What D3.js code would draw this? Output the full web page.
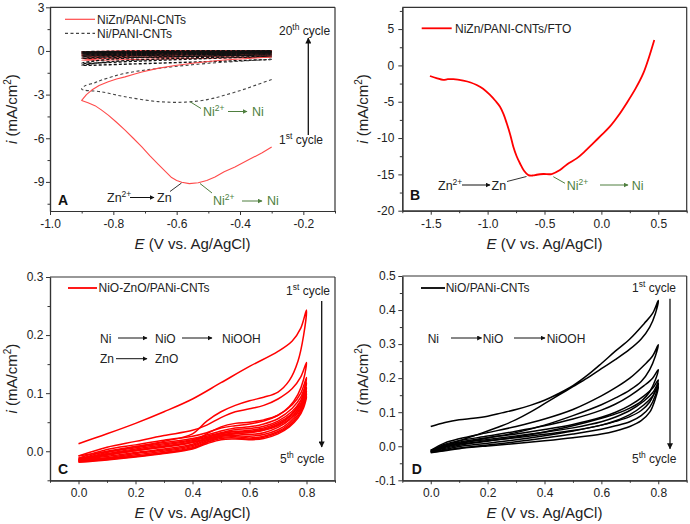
<!DOCTYPE html>
<html><head><meta charset="utf-8">
<script src="https://cdn.jsdelivr.net/npm/d3@7"></script>
<style>
body{margin:0;background:#fff}
svg{font-family:Arial,"Liberation Sans",sans-serif}
</style></head><body>
<svg id="c" width="690" height="524"></svg>
<script>
// ---------- Panel A data ----------
const aXTicks = [-1.0, -0.8, -0.6, -0.4, -0.2];
const aXMinor = [-0.9, -0.7, -0.5, -0.3, -0.1];
const aYTicks = [3, 0, -3, -6, -9];
const aYMinor = [1.5, -1.5, -4.5, -7.5, -10.5];
const aLegend = ["NiZn/PANI-CNTs", "Ni/PANI-CNTs"];
const aRedFirst = [[-0.3,-6.6],[-0.33,-7.0],[-0.37,-7.45],[-0.416,-7.97],[-0.45,-8.3],[-0.479,-8.66],[-0.505,-8.9],[-0.532,-9.06],[-0.56,-9.12],[-0.584,-9.02],[-0.6,-8.9],[-0.616,-8.70],[-0.635,-8.3],[-0.658,-7.80],[-0.685,-7.2],[-0.71,-6.60],[-0.737,-6.0],[-0.763,-5.44],[-0.79,-4.9],[-0.816,-4.41],[-0.838,-4.05],[-0.858,-3.76],[-0.88,-3.56],[-0.9,-3.40],[-0.885,-3.0],[-0.868,-2.69],[-0.845,-2.38],[-0.816,-2.12],[-0.79,-1.93],[-0.763,-1.78],[-0.735,-1.6],[-0.71,-1.45],[-0.66,-1.2],[-0.605,-1.0],[-0.55,-0.85],[-0.5,-0.72],[-0.45,-0.62],[-0.4,-0.55],[-0.35,-0.48],[-0.3,-0.42]];
const aRedCycles = [
 [[-0.3,-0.42],[-0.5,-0.5],[-0.7,-0.57],[-0.9,-0.64],[-0.8,-0.48],[-0.6,-0.38],[-0.3,-0.3]],
 [[-0.3,-0.3],[-0.5,-0.38],[-0.7,-0.45],[-0.9,-0.52],[-0.8,-0.38],[-0.6,-0.28],[-0.3,-0.2]],
 [[-0.3,-0.2],[-0.6,-0.3],[-0.9,-0.4],[-0.75,-0.27],[-0.5,-0.18],[-0.3,-0.14]],
 [[-0.3,-0.14],[-0.6,-0.22],[-0.9,-0.3],[-0.7,-0.17],[-0.3,-0.09]],
 [[-0.3,-0.09],[-0.6,-0.15],[-0.9,-0.22],[-0.7,-0.1],[-0.3,-0.05]],
 [[-0.3,-0.05],[-0.6,-0.1],[-0.9,-0.15],[-0.7,-0.05],[-0.3,-0.02]],
 [[-0.3,-0.02],[-0.6,-0.05],[-0.9,-0.09],[-0.7,-0.01],[-0.3,0.01]],
 [[-0.3,0.01],[-0.6,-0.02],[-0.9,-0.05],[-0.7,0.02],[-0.3,0.03]]
];
const aNiFirst = [[-0.3,-1.96],[-0.35,-2.35],[-0.395,-2.69],[-0.45,-3.05],[-0.5,-3.33],[-0.573,-3.52],[-0.658,-3.48],[-0.763,-3.15],[-0.837,-2.81],[-0.9,-2.62],[-0.89,-2.4],[-0.86,-2.2],[-0.837,-2.0],[-0.763,-1.54],[-0.658,-1.2],[-0.5,-0.85],[-0.3,-0.58]];
const aNiCycles = [
 [[-0.3,-0.58],[-0.45,-0.7],[-0.6,-0.8],[-0.75,-0.9],[-0.9,-0.98],[-0.8,-0.72],[-0.65,-0.55],[-0.5,-0.45],[-0.3,-0.38]],
 [[-0.3,-0.38],[-0.5,-0.52],[-0.7,-0.68],[-0.9,-0.84],[-0.8,-0.55],[-0.6,-0.4],[-0.3,-0.27]],
 [[-0.3,-0.27],[-0.6,-0.38],[-0.9,-0.5],[-0.75,-0.35],[-0.5,-0.25],[-0.3,-0.2]],
 [[-0.3,-0.2],[-0.6,-0.27],[-0.9,-0.36],[-0.7,-0.24],[-0.3,-0.14]],
 [[-0.3,-0.14],[-0.6,-0.2],[-0.9,-0.28],[-0.7,-0.16],[-0.3,-0.1]],
 [[-0.3,-0.1],[-0.6,-0.15],[-0.9,-0.2],[-0.7,-0.1],[-0.3,-0.06]],
 [[-0.3,-0.06],[-0.6,-0.1],[-0.9,-0.14],[-0.7,-0.05],[-0.3,-0.03]],
 [[-0.3,-0.03],[-0.6,-0.06],[-0.9,-0.1],[-0.7,-0.02],[-0.3,0.0]],
 [[-0.3,0.0],[-0.6,-0.03],[-0.9,-0.06],[-0.7,0.01],[-0.3,0.02]]
];

// ---------- Panel B data ----------
const bXTicks = [-1.5, -1.0, -0.5, 0.0, 0.5];
const bXMinor = [-1.75, -1.25, -0.75, -0.25, 0.25, 0.75];
const bYTicks = [5, 0, -5, -10, -15, -20];
const bYMinor = [7.5, 2.5, -2.5, -7.5, -12.5, -17.5];
const bLegend = ["NiZn/PANI-CNTs/FTO"];
const bCurve = [[-1.507,-1.46],[-1.45,-1.75],[-1.39,-2.0],[-1.35,-1.9],[-1.302,-1.9],[-1.214,-2.1],[-1.15,-2.35],[-1.096,-2.7],[-1.04,-3.2],[-0.979,-4.07],[-0.93,-4.9],[-0.891,-5.68],[-0.86,-6.7],[-0.832,-7.97],[-0.80,-9.6],[-0.774,-11.2],[-0.745,-12.5],[-0.715,-13.5],[-0.68,-14.5],[-0.642,-15.1],[-0.6,-15.15],[-0.569,-15.05],[-0.51,-14.95],[-0.437,-14.95],[-0.364,-14.4],[-0.3,-13.6],[-0.217,-12.8],[-0.15,-11.9],[-0.071,-10.7],[0.0,-9.6],[0.076,-8.4],[0.15,-6.9],[0.222,-5.2],[0.3,-3.2],[0.368,-1.1],[0.42,1.2],[0.465,3.5]];

// ---------- Panel C data ----------
const cXTicks = [0.0, 0.2, 0.4, 0.6, 0.8];
const cXMinor = [-0.1, 0.1, 0.3, 0.5, 0.7, 0.9];
const cYTicks = [0.0, 0.1, 0.2, 0.3];
const cYMinor = [-0.05, 0.05, 0.15, 0.25];
const cLegend = ["NiO-ZnO/PANi-CNTs"];
const cCycles = [
 [[0.0,0.013],[0.1,0.03],[0.2,0.048],[0.3,0.068],[0.4,0.09],[0.5,0.118],[0.6,0.146],[0.7,0.172],[0.75,0.19],[0.78,0.212],[0.8,0.243],
  [0.79,0.2],[0.77,0.155],[0.74,0.122],[0.7,0.102],[0.65,0.093],[0.6,0.087],[0.55,0.079],[0.5,0.068],[0.45,0.052],[0.4,0.03],[0.3,0.017],[0.2,0.008],[0.1,-0.001],[0.0,-0.008]],
 [[0.0,-0.008],[0.1,0.007],[0.2,0.017],[0.3,0.027],[0.4,0.036],[0.45,0.045],[0.5,0.058],[0.55,0.068],[0.6,0.073],[0.65,0.079],[0.7,0.09],[0.75,0.108],[0.78,0.128],[0.8,0.153],
  [0.79,0.124],[0.77,0.098],[0.74,0.077],[0.7,0.062],[0.65,0.054],[0.6,0.05],[0.55,0.048],[0.5,0.042],[0.45,0.03],[0.4,0.016],[0.3,0.007],[0.2,0.001],[0.1,-0.007],[0.0,-0.012]],
 [[0.0,-0.012],[0.1,0.003],[0.2,0.011],[0.3,0.019],[0.4,0.026],[0.45,0.032],[0.5,0.04],[0.55,0.044],[0.6,0.047],[0.65,0.052],[0.7,0.062],[0.75,0.08],[0.78,0.1],[0.8,0.127],
  [0.79,0.1],[0.77,0.078],[0.74,0.06],[0.7,0.046],[0.65,0.037],[0.6,0.033],[0.55,0.034],[0.5,0.031],[0.45,0.023],[0.4,0.012],[0.3,0.004],[0.2,-0.002],[0.1,-0.009],[0.0,-0.014]],
 [[0.0,-0.014],[0.1,0.0],[0.2,0.008],[0.3,0.015],[0.4,0.022],[0.45,0.028],[0.5,0.035],[0.55,0.04],[0.6,0.042],[0.65,0.047],[0.7,0.056],[0.75,0.074],[0.78,0.093],[0.8,0.118],
  [0.79,0.094],[0.77,0.072],[0.74,0.054],[0.7,0.041],[0.65,0.032],[0.6,0.029],[0.55,0.03],[0.5,0.028],[0.45,0.02],[0.4,0.01],[0.3,0.002],[0.2,-0.004],[0.1,-0.011],[0.0,-0.015]],
 [[0.0,-0.015],[0.1,-0.002],[0.2,0.006],[0.3,0.013],[0.4,0.02],[0.45,0.026],[0.5,0.032],[0.55,0.037],[0.6,0.039],[0.65,0.043],[0.7,0.052],[0.75,0.069],[0.78,0.087],[0.8,0.11],
  [0.79,0.088],[0.77,0.067],[0.74,0.05],[0.7,0.037],[0.65,0.029],[0.6,0.026],[0.55,0.027],[0.5,0.026],[0.45,0.018],[0.4,0.008],[0.3,0.0],[0.2,-0.006],[0.1,-0.012],[0.0,-0.016]],
 [[0.0,-0.016],[0.1,-0.004],[0.2,0.004],[0.3,0.011],[0.4,0.018],[0.45,0.024],[0.5,0.03],[0.55,0.034],[0.6,0.036],[0.65,0.04],[0.7,0.049],[0.75,0.065],[0.78,0.082],[0.8,0.104],
  [0.79,0.083],[0.77,0.063],[0.74,0.047],[0.7,0.034],[0.65,0.026],[0.6,0.023],[0.55,0.025],[0.5,0.024],[0.45,0.016],[0.4,0.006],[0.3,-0.002],[0.2,-0.008],[0.1,-0.013],[0.0,-0.017]],
 [[0.0,-0.017],[0.1,-0.005],[0.2,0.002],[0.3,0.009],[0.4,0.016],[0.45,0.022],[0.5,0.028],[0.55,0.032],[0.6,0.034],[0.65,0.038],[0.7,0.046],[0.75,0.062],[0.78,0.078],[0.8,0.099],
  [0.79,0.079],[0.77,0.06],[0.74,0.044],[0.7,0.032],[0.65,0.024],[0.6,0.021],[0.55,0.023],[0.5,0.022],[0.45,0.015],[0.4,0.005],[0.3,-0.003],[0.2,-0.009],[0.1,-0.014],[0.0,-0.018]],
 [[0.0,-0.018],[0.1,-0.006],[0.2,0.001],[0.3,0.008],[0.4,0.015],[0.45,0.02],[0.5,0.026],[0.55,0.03],[0.6,0.032],[0.65,0.036],[0.7,0.044],[0.75,0.059],[0.78,0.074],[0.8,0.094],
  [0.79,0.075],[0.77,0.057],[0.74,0.042],[0.7,0.03],[0.65,0.022],[0.6,0.02],[0.55,0.021],[0.5,0.02],[0.45,0.013],[0.4,0.004],[0.3,-0.004],[0.2,-0.01],[0.1,-0.015],[0.0,-0.019]]
];

// ---------- Panel D data ----------
const dXTicks = [0.0, 0.2, 0.4, 0.6, 0.8];
const dXMinor = [-0.1, 0.1, 0.3, 0.5, 0.7, 0.9];
const dYTicks = [-0.1, 0.0, 0.1, 0.2, 0.3, 0.4, 0.5];
const dYMinor = [-0.05, 0.05, 0.15, 0.25, 0.35, 0.45];
const dLegend = ["NiO/PANi-CNTs"];
const dCycles = [
 [[0.0,0.058],[0.05,0.07],[0.1,0.078],[0.15,0.082],[0.2,0.088],[0.25,0.098],[0.3,0.108],[0.35,0.12],[0.4,0.135],[0.45,0.155],[0.5,0.178],[0.55,0.208],[0.6,0.243],[0.65,0.28],[0.7,0.315],[0.75,0.36],[0.78,0.39],[0.8,0.428],
  [0.79,0.39],[0.77,0.35],[0.74,0.315],[0.7,0.285],[0.65,0.255],[0.6,0.228],[0.55,0.2],[0.5,0.175],[0.45,0.15],[0.4,0.125],[0.35,0.1],[0.3,0.078],[0.25,0.06],[0.2,0.045],[0.15,0.03],[0.1,0.016],[0.05,0.002],[0.0,-0.012]],
 [[0.0,-0.012],[0.05,0.01],[0.1,0.022],[0.2,0.04],[0.3,0.058],[0.4,0.08],[0.5,0.108],[0.6,0.148],[0.65,0.172],[0.7,0.2],[0.75,0.238],[0.78,0.265],[0.8,0.298],
  [0.79,0.265],[0.77,0.225],[0.74,0.19],[0.7,0.165],[0.65,0.142],[0.6,0.122],[0.5,0.09],[0.4,0.062],[0.3,0.04],[0.2,0.024],[0.1,0.008],[0.05,-0.002],[0.0,-0.014]],
 [[0.0,-0.014],[0.05,0.006],[0.1,0.016],[0.2,0.03],[0.3,0.044],[0.4,0.06],[0.5,0.08],[0.6,0.106],[0.65,0.124],[0.7,0.148],[0.75,0.178],[0.78,0.2],[0.8,0.225],
  [0.79,0.195],[0.77,0.16],[0.74,0.132],[0.7,0.112],[0.65,0.095],[0.6,0.082],[0.5,0.06],[0.4,0.042],[0.3,0.027],[0.2,0.015],[0.1,0.003],[0.05,-0.006],[0.0,-0.016]],
 [[0.0,-0.016],[0.05,0.003],[0.1,0.012],[0.2,0.025],[0.3,0.036],[0.4,0.049],[0.5,0.064],[0.6,0.085],[0.65,0.1],[0.7,0.12],[0.75,0.148],[0.78,0.17],[0.8,0.195],
  [0.79,0.165],[0.77,0.13],[0.74,0.105],[0.7,0.087],[0.65,0.073],[0.6,0.062],[0.5,0.045],[0.4,0.031],[0.3,0.019],[0.2,0.009],[0.1,-0.001],[0.05,-0.009],[0.0,-0.017]],
 [[0.0,-0.017],[0.05,0.0],[0.1,0.009],[0.2,0.02],[0.3,0.03],[0.4,0.041],[0.5,0.054],[0.6,0.072],[0.65,0.086],[0.7,0.105],[0.75,0.133],[0.78,0.157],[0.8,0.185],
  [0.79,0.15],[0.77,0.115],[0.74,0.09],[0.7,0.072],[0.65,0.06],[0.6,0.05],[0.5,0.036],[0.4,0.024],[0.3,0.013],[0.2,0.004],[0.1,-0.005],[0.05,-0.012],[0.0,-0.018]],
 [[0.0,-0.018],[0.05,-0.003],[0.1,0.006],[0.2,0.016],[0.3,0.025],[0.4,0.035],[0.5,0.046],[0.6,0.062],[0.65,0.075],[0.7,0.093],[0.75,0.122],[0.78,0.147],[0.8,0.175],
  [0.79,0.14],[0.77,0.1],[0.74,0.075],[0.7,0.058],[0.65,0.045],[0.6,0.036],[0.5,0.025],[0.4,0.016],[0.3,0.008],[0.2,0.001],[0.1,-0.007],[0.05,-0.013],[0.0,-0.019]]
];

// ---------- drawing ----------
const svg = d3.select("#c");
const AX = "#333";
const GREEN = "#4f7f3f";
const TXT = "#222";

const defs = svg.append("defs");
function marker(id, color, w, h) {
  defs.append("marker").attr("id", id).attr("viewBox", "0 0 10 10")
    .attr("refX", 9).attr("refY", 5).attr("markerWidth", w).attr("markerHeight", h)
    .attr("orient", "auto").attr("markerUnits", "userSpaceOnUse")
    .append("path").attr("d", "M0,0 L10,5 L0,10 z").attr("fill", color);
}
marker("arK", "#111", 5, 5);
marker("arG", GREEN, 5, 5);
marker("arBig", "#111", 7, 6);

function panel(o) {
  const x = d3.scaleLinear().domain(o.xd).range([o.l, o.r]);
  const y = d3.scaleLinear().domain(o.yd).range([o.b, o.t]);
  const g = svg.append("g");
  g.append("g").attr("transform", `translate(0,${o.b})`)
    .call(d3.axisBottom(x).tickValues(o.xt).tickFormat(o.xf).tickSizeInner(4).tickSizeOuter(0).tickPadding(4.5));
  g.append("g").attr("transform", `translate(0,${o.b})`)
    .call(d3.axisBottom(x).tickValues(o.xm).tickFormat("").tickSizeInner(2.5).tickSizeOuter(0));
  g.append("g").attr("transform", `translate(${o.l},0)`)
    .call(d3.axisLeft(y).tickValues(o.yt).tickFormat(o.yf).tickSizeInner(4).tickSizeOuter(0).tickPadding(o.yp));
  g.append("g").attr("transform", `translate(${o.l},0)`)
    .call(d3.axisLeft(y).tickValues(o.ym).tickFormat("").tickSizeInner(2.5).tickSizeOuter(0));
  g.selectAll(".domain").attr("stroke", AX).attr("stroke-width", 1.2);
  g.selectAll(".tick line").attr("stroke", AX);
  g.selectAll(".tick text").attr("font-size", 12).attr("fill", TXT).attr("font-family", "Arial, 'Liberation Sans', sans-serif");
  g.append("line").attr("x1", o.l).attr("x2", o.r).attr("y1", o.t).attr("y2", o.t).attr("stroke", AX).attr("stroke-width", 1.2);
  g.append("line").attr("x1", o.r).attr("x2", o.r).attr("y1", o.t).attr("y2", o.b).attr("stroke", AX).attr("stroke-width", 1.2);
  const xt = g.append("text").attr("x", (o.l + o.r) / 2).attr("y", o.b + 38).attr("text-anchor", "middle")
    .attr("font-size", 15).attr("fill", TXT);
  xt.append("tspan").attr("font-style", "italic").text("E");
  xt.append("tspan").text(" (V vs. Ag/AgCl)");
  const yt = g.append("text").attr("transform", `translate(${o.ytx},${(o.t + o.b) / 2}) rotate(-90)`)
    .attr("text-anchor", "middle").attr("font-size", 15).attr("fill", TXT);
  yt.append("tspan").attr("font-style", "italic").text("i");
  yt.append("tspan").text(" (mA/cm");
  yt.append("tspan").attr("font-size", 10).attr("dy", -6).text("2");
  yt.append("tspan").attr("dy", 6).text(")");
  return {x, y, g};
}

const fmt1 = d => d.toFixed(1);
const fmt0 = d => d.toFixed(0);

function richText(g, x, y, parts, color, size) {
  const t = g.append("text").attr("x", x).attr("y", y).attr("font-size", size || 12.5).attr("fill", color || TXT);
  let shifted = false;
  parts.forEach(p => {
    if (Array.isArray(p)) {
      t.append("tspan").attr("font-size", 8.5).attr("dy", -5).text(p[0]);
      shifted = true;
    } else {
      const s = t.append("tspan").text(p);
      if (shifted) { s.attr("dy", 5); shifted = false; }
    }
  });
  return t;
}
function arrow(g, x1, y1, x2, y2, color, mk, w) {
  g.append("line").attr("x1", x1).attr("y1", y1).attr("x2", x2).attr("y2", y2)
    .attr("stroke", color).attr("stroke-width", w || 1).attr("marker-end", `url(#${mk})`);
}
function seg(g, x1, y1, x2, y2, color) {
  g.append("line").attr("x1", x1).attr("y1", y1).attr("x2", x2).attr("y2", y2).attr("stroke", color).attr("stroke-width", 1);
}

// ---- Panel A ----
{
  const P = panel({l: 50, r: 335, t: 7.3, b: 211, xd: [-1.0, -0.1], yd: [-11, 3],
    xt: aXTicks, xm: aXMinor, yt: aYTicks, ym: aYMinor, xf: fmt1, yf: fmt0, yp: 1.5, ytx: 17});
  const line = d3.line().x(d => P.x(d[0])).y(d => P.y(d[1])).curve(d3.curveCatmullRom.alpha(0.5));
  const lineLin = d3.line().x(d => P.x(d[0])).y(d => P.y(d[1]));
  const RED = "#ff4a4a";
  aRedCycles.forEach(c => P.g.append("path").attr("d", line(c)).attr("fill", "none").attr("stroke", RED).attr("stroke-width", 1.1));
  aNiCycles.forEach(c => P.g.append("path").attr("d", line(c)).attr("fill", "none").attr("stroke", "#111").attr("stroke-width", 1.4).attr("stroke-dasharray", "3,2"));
  P.g.append("path").attr("d", line(aNiFirst)).attr("fill", "none").attr("stroke", "#444").attr("stroke-width", 1.1).attr("stroke-dasharray", "3,2.5");
  P.g.append("path").attr("d", lineLin(aRedFirst)).attr("fill", "none").attr("stroke", RED).attr("stroke-width", 1.1).attr("stroke-linejoin", "round");
  P.g.append("line").attr("x1", 65).attr("x2", 95).attr("y1", 19.3).attr("y2", 19.3).attr("stroke", RED).attr("stroke-width", 1.2);
  P.g.append("text").attr("x", 97).attr("y", 23.5).attr("font-size", 12).attr("fill", TXT).text(aLegend[0]);
  P.g.append("line").attr("x1", 65).attr("x2", 95).attr("y1", 33.3).attr("y2", 33.3).attr("stroke", "#444").attr("stroke-width", 1.2).attr("stroke-dasharray", "3,2.5");
  P.g.append("text").attr("x", 97).attr("y", 37.5).attr("font-size", 12).attr("fill", TXT).text(aLegend[1]);
  seg(P.g, 190, 101.7, 201, 108.5, GREEN);
  richText(P.g, 203, 116, ["Ni", ["2+"]], GREEN);
  arrow(P.g, 228, 111.5, 247, 111.5, GREEN, "arG");
  richText(P.g, 252, 116, ["Ni"], GREEN);
  richText(P.g, 107, 202, ["Zn", ["2+"]], TXT);
  arrow(P.g, 130, 197.5, 154, 197.5, "#111", "arK");
  richText(P.g, 157, 202, ["Zn"], TXT);
  seg(P.g, 170, 191.5, 181.5, 183, "#333");
  seg(P.g, 200, 183.5, 212, 193, GREEN);
  richText(P.g, 213, 204.5, ["Ni", ["2+"]], GREEN);
  arrow(P.g, 242, 201, 262, 201, GREEN, "arG");
  richText(P.g, 267, 204.5, ["Ni"], GREEN);
  P.g.append("text").attr("x", 58).attr("y", 205).attr("font-size", 14).attr("font-weight", "bold").attr("fill", "#111").text("A");
  arrow(P.g, 308.3, 135, 308.3, 38, "#111", "arBig", 1.3);
  richText(P.g, 279, 35, ["20", ["th"], " cycle"], TXT, 12);
  richText(P.g, 279, 143.5, ["1", ["st"], " cycle"], TXT, 12);
}

// ---- Panel B ----
{
  const P = panel({l: 402.3, r: 686.7, t: 7.3, b: 210.7, xd: [-1.75, 0.75], yd: [-20, 8],
    xt: bXTicks, xm: bXMinor, yt: bYTicks, ym: bYMinor, xf: fmt1, yf: fmt0, yp: 4, ytx: 368});
  const line = d3.line().x(d => P.x(d[0])).y(d => P.y(d[1])).curve(d3.curveCatmullRom.alpha(0.5));
  P.g.append("path").attr("d", line(bCurve)).attr("fill", "none").attr("stroke", "#ff0000").attr("stroke-width", 1.8);
  P.g.append("line").attr("x1", 421.7).attr("x2", 451.7).attr("y1", 28.3).attr("y2", 28.3).attr("stroke", "#ff0000").attr("stroke-width", 1.8);
  P.g.append("text").attr("x", 455).attr("y", 32.5).attr("font-size", 12).attr("fill", TXT).text(bLegend[0]);
  richText(P.g, 438, 189.5, ["Zn", ["2+"]], TXT);
  arrow(P.g, 462, 185, 490, 185, "#111", "arK");
  richText(P.g, 491.5, 189.5, ["Zn"], TXT);
  seg(P.g, 507, 181.5, 526.5, 176.5, "#333");
  seg(P.g, 553.3, 176.7, 565, 183.3, GREEN);
  richText(P.g, 566.7, 189.5, ["Ni", ["2+"]], GREEN);
  arrow(P.g, 600, 185, 628, 185, GREEN, "arG");
  richText(P.g, 631.7, 189.5, ["Ni"], GREEN);
  P.g.append("text").attr("x", 410).attr("y", 200).attr("font-size", 14).attr("font-weight", "bold").attr("fill", "#111").text("B");
}

// ---- Panel C ----
{
  const P = panel({l: 50, r: 335, t: 277, b: 480.3, xd: [-0.1, 0.9], yd: [-0.05, 0.3],
    xt: cXTicks, xm: cXMinor, yt: cYTicks, ym: cYMinor, xf: fmt1, yf: fmt1, yp: 2.7, ytx: 17});
  const line = d3.line().x(d => P.x(d[0])).y(d => P.y(d[1])).curve(d3.curveCatmullRom.alpha(0.5));
  cCycles.forEach(c => P.g.append("path").attr("d", line(c)).attr("fill", "none").attr("stroke", "#ff0000").attr("stroke-width", 1.5));
  P.g.append("line").attr("x1", 68).attr("x2", 97).attr("y1", 288).attr("y2", 288).attr("stroke", "#ff0000").attr("stroke-width", 1.8);
  P.g.append("text").attr("x", 98.5).attr("y", 292.2).attr("font-size", 12).attr("fill", TXT).text(cLegend[0]);
  richText(P.g, 100, 342.5, ["Ni"], TXT, 12);
  arrow(P.g, 118, 338, 147, 338, "#111", "arK");
  richText(P.g, 155, 342.5, ["NiO"], TXT, 12);
  arrow(P.g, 182, 338, 212, 338, "#111", "arK");
  richText(P.g, 222, 342.5, ["NiOOH"], TXT, 12);
  richText(P.g, 100, 363, ["Zn"], TXT, 12);
  arrow(P.g, 116, 358.7, 147, 358.7, "#111", "arK");
  richText(P.g, 155, 363, ["ZnO"], TXT, 12);
  arrow(P.g, 321.7, 301, 321.7, 447, "#111", "arBig", 1.3);
  richText(P.g, 286, 294.5, ["1", ["st"], " cycle"], TXT, 12);
  richText(P.g, 280, 463, ["5", ["th"], " cycle"], TXT, 12);
  P.g.append("text").attr("x", 58).attr("y", 474).attr("font-size", 14).attr("font-weight", "bold").attr("fill", "#111").text("C");
}

// ---- Panel D ----
{
  const P = panel({l: 402.3, r: 686.7, t: 276, b: 480.3, xd: [-0.1, 0.9], yd: [-0.1, 0.5],
    xt: dXTicks, xm: dXMinor, yt: dYTicks, ym: dYMinor, xf: fmt1, yf: fmt1, yp: 2.6, ytx: 368});
  const line = d3.line().x(d => P.x(d[0])).y(d => P.y(d[1])).curve(d3.curveCatmullRom.alpha(0.5));
  dCycles.forEach(c => P.g.append("path").attr("d", line(c)).attr("fill", "none").attr("stroke", "#000").attr("stroke-width", 1.5));
  P.g.append("line").attr("x1", 421).attr("x2", 445).attr("y1", 288).attr("y2", 288).attr("stroke", "#000").attr("stroke-width", 1.8);
  P.g.append("text").attr("x", 445.7).attr("y", 292.2).attr("font-size", 12).attr("fill", TXT).text(dLegend[0]);
  richText(P.g, 427.7, 342.5, ["Ni"], TXT, 12);
  arrow(P.g, 451, 338, 481.7, 338, "#111", "arK");
  richText(P.g, 482.7, 342.5, ["NiO"], TXT, 12);
  arrow(P.g, 514, 338, 545, 338, "#111", "arK");
  richText(P.g, 546.7, 342.5, ["NiOOH"], TXT, 12);
  arrow(P.g, 670, 298.7, 670, 448.7, "#111", "arBig", 1.3);
  richText(P.g, 632, 291.5, ["1", ["st"], " cycle"], TXT, 12);
  richText(P.g, 632, 463, ["5", ["th"], " cycle"], TXT, 12);
  P.g.append("text").attr("x", 411.7).attr("y", 474).attr("font-size", 14).attr("font-weight", "bold").attr("fill", "#111").text("D");
}
</script></body></html>
